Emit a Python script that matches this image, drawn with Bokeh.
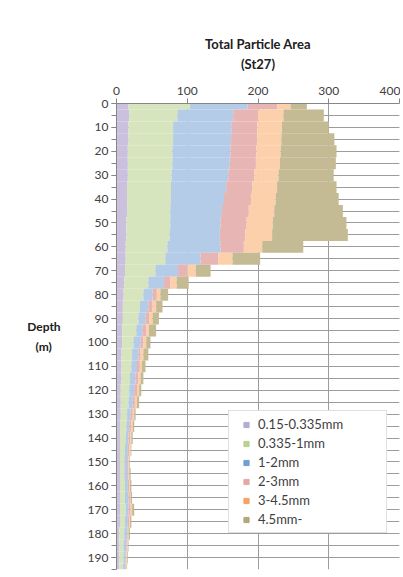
from bokeh.plotting import figure
from bokeh.models import ColumnDataSource, Range1d, FixedTicker, Legend, LegendItem
from bokeh.embed import file_html
from bokeh.resources import INLINE

depth = [0, 5, 10, 15, 20, 25, 30, 35, 40, 45, 50, 55, 60, 65, 70, 75, 80, 85, 90, 95,
         100, 105, 110, 115, 120, 125, 130, 135, 140, 145, 150, 155, 160, 165, 170, 175,
         180, 185, 190, 195]

s_015_0335 = [17, 18, 17, 17, 16, 16, 16, 15, 15, 15, 14, 14, 13, 13, 12, 11, 10, 9, 9, 8,
              8, 7, 7, 7, 6, 6, 6, 5, 5, 5, 5, 5, 5, 5, 5, 5, 4, 4, 4, 4]
s_0335_1 = [87, 68, 63, 63, 63, 63, 62, 62, 62, 61, 62, 61, 59, 56, 43, 34, 28, 24, 22, 20,
            16, 15, 14, 12, 12, 11, 9, 9, 8, 7, 6, 6, 7, 7, 8, 7, 7, 6, 6, 5]
s_1_2 = [81, 79, 83, 82, 82, 81, 80, 78, 75, 73, 71, 71, 75, 50, 32, 22, 13, 12, 10, 9,
         10, 9, 8, 8, 7, 6, 5, 4, 4, 4, 4, 4, 4, 5, 4, 4, 4, 4, 3, 3]
s_2_3 = [42, 35, 36, 37, 37, 37, 37, 37, 38, 38, 37, 36, 33, 25, 13, 9, 6, 6, 5, 5,
         4, 3, 4, 4, 4, 3, 3, 3, 2, 2, 2, 2, 2, 2, 3, 2, 1, 1, 1, 1]
s_3_45 = [19, 36, 35, 34, 34, 34, 34, 35, 35, 36, 37, 38, 26, 20, 12, 9, 5, 5, 5, 4,
          4, 4, 3, 3, 3, 3, 2, 2, 2, 2, 1, 1, 1, 1, 2, 1, 1, 1, 1, 1]
s_45 = [23, 57, 66, 75, 79, 79, 78, 84, 89, 97, 104, 107, 58, 39, 21, 17, 11, 9, 9, 10,
        6, 7, 5, 4, 3, 3, 2, 2, 2, 1, 1, 2, 2, 2, 3, 2, 2, 1, 1, 1]

series_labels = ["0.15-0.335mm", "0.335-1mm", "1-2mm", "2-3mm", "3-4.5mm", "4.5mm-"]
x_ticks = [0, 100, 200, 300, 400]
y_label_ticks = list(range(0, 200, 10))
y_minor_ticks = list(range(0, 200, 5))

bar_colors = ["#cbc1de", "#d6e5bd", "#b4cce8", "#e6b5b4", "#fcd0aa", "#c4ba94"]
legend_colors = ["#b6abd3", "#b9d191", "#709fd3", "#e3a9a7", "#f8a265", "#b3a878"]

keys = ["a", "b", "c", "d", "e", "f"]
source = ColumnDataSource(dict(depth=depth, a=s_015_0335, b=s_0335_1, c=s_1_2,
                               d=s_2_3, e=s_3_45, f=s_45))

p = figure(width=400, height=575, output_backend="svg", toolbar_location=None,
           x_range=Range1d(0, 400), y_range=Range1d(195, 0),
           x_axis_location="above", min_border_left=116, min_border_top=103,
           min_border_right=1, min_border_bottom=6)
p.outline_line_color = None
p.background_fill_color = "white"
p.border_fill_color = "white"

bars = p.hbar_stack(keys, y="depth", height=5, color=bar_colors, line_color=None, source=source)

font = "Lato"
p.xaxis.ticker = FixedTicker(ticks=x_ticks)
p.yaxis.ticker = FixedTicker(ticks=y_label_ticks, minor_ticks=y_minor_ticks)
for ax in (p.xaxis[0], p.yaxis[0]):
    ax.axis_line_color = "#868686"
    ax.major_tick_line_color = "#868686"
    ax.major_label_text_font = font
    ax.major_label_text_font_size = "12px"
    ax.major_label_text_color = "#404040"
    ax.major_tick_in = 0
    ax.major_tick_out = 5
p.xaxis.minor_tick_line_color = None
p.yaxis.minor_tick_line_color = "#868686"
p.yaxis.minor_tick_in = 0
p.yaxis.minor_tick_out = 5
p.xaxis.major_label_standoff = 4
p.yaxis.major_label_standoff = 3

p.xgrid.grid_line_color = "#9c9c9c"
p.ygrid.grid_line_color = "#9c9c9c"
p.ygrid.minor_grid_line_color = "#9c9c9c"

# chart title as the label of the top axis
xax = p.xaxis[0]
xax.axis_label = "Total Particle Area\n(St27)"
xax.axis_label_text_font = font
xax.axis_label_text_font_style = "bold"
xax.axis_label_text_font_size = "13px"
xax.axis_label_text_color = "#202020"
xax.axis_label_text_line_height = 1.2
xax.axis_label_standoff = 12

# depth label
yax = p.yaxis[0]
yax.axis_label = "Depth\n(m)\u00a0\u00a0\u00a0"
yax.axis_label_text_font = font
yax.axis_label_text_font_style = "bold"
yax.axis_label_text_font_size = "12px"
yax.axis_label_text_color = "#202020"
yax.axis_label_text_line_height = 1.35
yax.axis_label_standoff = 24
if "axis_label_orientation" in yax.properties():
    yax.axis_label_orientation = "horizontal"

# legend-only markers (NaN position: nothing drawn inside the plot)
nan = float("nan")
markers = []
for c in legend_colors:
    markers.append(p.scatter(x=[nan], y=[nan], marker="square", size=7,
                             fill_color=c, line_color=c))

legend = Legend(items=[LegendItem(label=l, renderers=[r]) for l, r in zip(series_labels, markers)],
                location=(112, 36))
legend.padding = 5
legend.margin = 0
legend.spacing = 3
legend.label_height = 13
legend.glyph_height = 13
legend.glyph_width = 24
legend.label_standoff = 0
legend.label_width = 123
legend.label_text_font = font
legend.label_text_font_size = "13px"
legend.label_text_color = "#404040"
legend.border_line_color = "#bfbfbf"
legend.background_fill_alpha = 1
p.add_layout(legend)

open("out.html", "w").write(file_html(p, INLINE))
